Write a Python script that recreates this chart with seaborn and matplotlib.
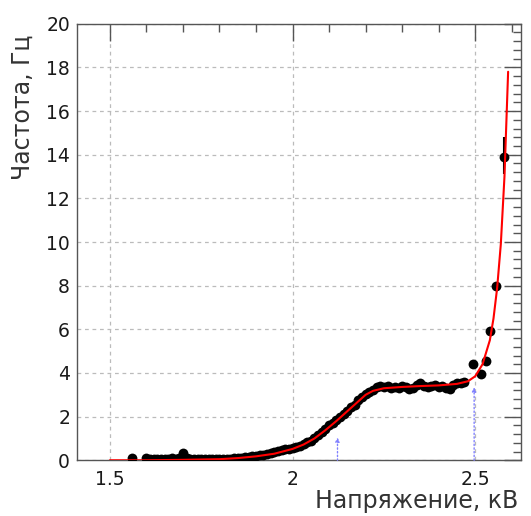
import matplotlib
matplotlib.use('Agg')
import matplotlib.pyplot as plt
import seaborn as sns
import pandas as pd
from matplotlib.ticker import MultipleLocator

# точки измерений: напряжение (кВ) и частота (Гц)
napr = [1.56, 1.60, 1.61, 1.62, 1.63, 1.64, 1.65, 1.66, 1.67, 1.68, 1.69,
        1.70, 1.71, 1.72, 1.73, 1.74, 1.75, 1.76, 1.77, 1.78, 1.79, 1.80,
        1.81, 1.82, 1.83, 1.84, 1.85, 1.86, 1.87, 1.88, 1.89, 1.90, 1.91,
        1.92, 1.93, 1.94, 1.95, 1.96, 1.97, 1.98, 1.99, 2.00, 2.01, 2.02,
        2.03, 2.04, 2.05, 2.06, 2.07, 2.08, 2.09, 2.10, 2.11, 2.12, 2.13,
        2.14, 2.15, 2.16, 2.17, 2.18, 2.19, 2.20, 2.21, 2.22, 2.23, 2.24,
        2.25, 2.26, 2.27, 2.28, 2.29, 2.30, 2.31, 2.32, 2.33, 2.34, 2.35,
        2.36, 2.37, 2.38, 2.39, 2.40, 2.41, 2.42, 2.43, 2.44, 2.45, 2.46,
        2.47, 2.495, 2.517, 2.53, 2.54, 2.557, 2.58]
chast = [0.10, 0.10, 0.08, 0.08, 0.07, 0.07, 0.06, 0.07, 0.09, 0.08, 0.12,
         0.35, 0.12, 0.06, 0.05, 0.05, 0.04, 0.05, 0.05, 0.06, 0.05, 0.06,
         0.07, 0.06, 0.08, 0.09, 0.10, 0.12, 0.13, 0.15, 0.18, 0.20, 0.22,
         0.26, 0.28, 0.33, 0.36, 0.42, 0.45, 0.50, 0.52, 0.56, 0.62, 0.66,
         0.74, 0.82, 0.90, 1.02, 1.15, 1.30, 1.45, 1.60, 1.72, 1.85, 2.00,
         2.10, 2.25, 2.45, 2.55, 2.75, 2.90, 3.05, 3.15, 3.20, 3.35, 3.40,
         3.35, 3.40, 3.30, 3.35, 3.30, 3.40, 3.35, 3.25, 3.30, 3.45, 3.55,
         3.40, 3.35, 3.40, 3.45, 3.35, 3.40, 3.30, 3.25, 3.45, 3.55, 3.55,
         3.60, 4.40, 3.96, 4.56, 5.90, 8.00, 13.90]

# ошибка последней точки
err_x = [2.58]
err_lo = [13.1]
err_hi = [14.8]

# аппроксимирующая кривая
fit_x = [1.50, 1.60, 1.70, 1.80, 1.85, 1.90, 1.95, 2.00, 2.03, 2.06, 2.09,
         2.12, 2.15, 2.18, 2.20, 2.22, 2.25, 2.30, 2.35, 2.40, 2.45, 2.48,
         2.50, 2.52, 2.54, 2.55, 2.56, 2.57, 2.58, 2.59]
fit_y = [0.00, 0.00, 0.02, 0.05, 0.10, 0.18, 0.30, 0.52, 0.72, 1.00, 1.38,
         1.80, 2.25, 2.70, 3.00, 3.18, 3.30, 3.36, 3.40, 3.43, 3.50, 3.62,
         3.85, 4.40, 5.50, 6.50, 7.90, 9.90, 13.00, 17.80]

# синие стрелки
strel_x = [2.123, 2.497]
strel_y = [1.05, 3.35]

df = pd.DataFrame({'x': napr, 'y': chast})
df_fit = pd.DataFrame({'x': fit_x, 'y': fit_y})

sns.set_style('white')
plt.rcParams['font.family'] = ['DejaVu Sans']

fig = plt.figure(figsize=(5.31, 5.16), dpi=100)
ax = fig.add_axes([0.145, 0.108, 0.836, 0.846])

for x0, y0 in zip(strel_x, strel_y):
    ax.annotate('', xy=(x0, y0), xytext=(x0, 0),
                arrowprops=dict(arrowstyle='-|>', color='#8080ff', lw=1.0,
                                linestyle=':', mutation_scale=6,
                                shrinkA=0, shrinkB=0))

ax.vlines(err_x, err_lo, err_hi, color='black', lw=1.5, zorder=3)
sns.scatterplot(data=df, x='x', y='y', ax=ax, color='black', s=50,
                edgecolor='black', linewidth=0, zorder=3)
sns.lineplot(data=df_fit, x='x', y='y', ax=ax, color='red', lw=1.5,
             sort=False, zorder=4)

ax.set_xlim(1.41, 2.625)
ax.set_ylim(0, 20)

ax.xaxis.set_major_locator(MultipleLocator(0.5))
ax.xaxis.set_minor_locator(MultipleLocator(0.1))
ax.yaxis.set_major_locator(MultipleLocator(2))
ax.yaxis.set_minor_locator(MultipleLocator(0.4))
ax.set_xticks([1.5, 2, 2.5])
ax.set_xticklabels(['1.5', '2', '2.5'])

ax.tick_params(which='both', direction='in', top=True, right=True,
               color='#555555', width=1.0, labelsize=13.5, labelcolor='#1a1a1a')
ax.tick_params(which='major', length=12)
ax.tick_params(which='minor', length=6)
ax.tick_params(axis='x', which='major', pad=7)
ax.tick_params(axis='y', which='major', pad=5)

ax.grid(True, which='major', color='#bbbbbb', linestyle=(0, (3, 3)), lw=0.9)
for s in ax.spines.values():
    s.set_color('#555555')
    s.set_linewidth(1.0)

ax.set_xlabel('Напряжение, кВ', fontsize=17, color='#333333', loc='right')
ax.set_ylabel('Частота, Гц', fontsize=17, color='#333333', loc='top')
ax.xaxis.set_label_coords(0.995, -0.066)
ax.yaxis.set_label_coords(-0.095, 0.975)

fig.savefig('out.png', dpi=100)
